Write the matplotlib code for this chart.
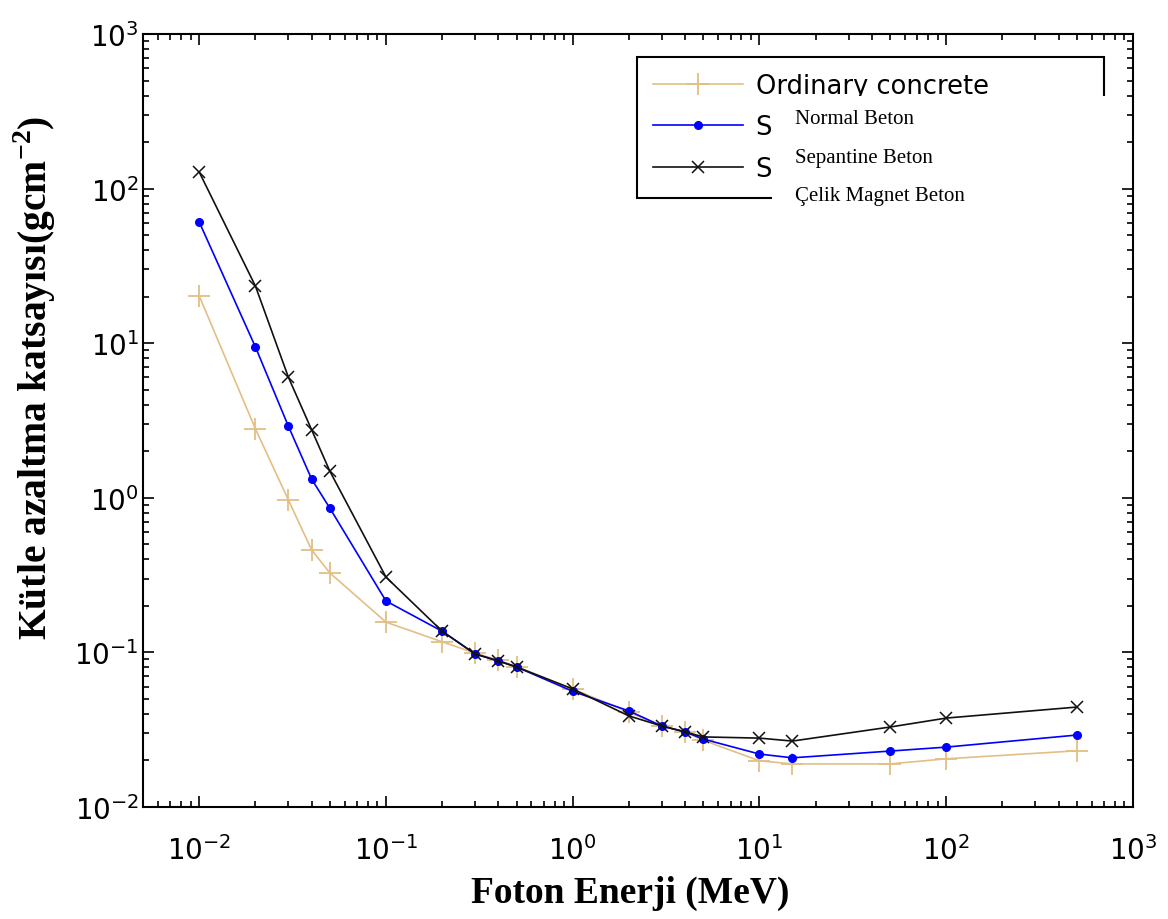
import matplotlib
matplotlib.use("Agg")
import matplotlib.pyplot as plt
from matplotlib.patches import Rectangle
from matplotlib.ticker import LogLocator, NullFormatter

# photon energies (MeV)
energy = [0.01, 0.02, 0.03, 0.04, 0.05, 0.1, 0.2, 0.3, 0.4, 0.5,
          1, 2, 3, 4, 5, 10, 15, 50, 100, 500]

# mass attenuation coefficients
ordinary = [20.2, 2.79, 0.97, 0.46, 0.327, 0.157, 0.117, 0.099, 0.089, 0.081,
            0.058, 0.041, 0.0334, 0.0306, 0.027, 0.0199, 0.019, 0.019, 0.0205, 0.0231]
serpentine = [60.8, 9.45, 2.91, 1.32, 0.859, 0.215, 0.137, 0.0977, 0.088, 0.0805,
              0.056, 0.0418, 0.0334, 0.0306, 0.0275, 0.022, 0.0208, 0.023, 0.0244, 0.0292]
steel_magnetite = [128, 23.4, 6.04, 2.75, 1.49, 0.307, 0.137, 0.0977, 0.088, 0.0805,
                   0.058, 0.0388, 0.0334, 0.0306, 0.0284, 0.0279, 0.0267, 0.0329, 0.0376, 0.0443]

# the original legend is partly hidden, only these parts are visible
legend_en = ["Ordinary concrete", "S", "S"]
legend_tr = ["Normal Beton", "Sepantine Beton", "Çelik Magnet Beton"]

plt.rcParams['mathtext.fontset'] = 'custom'
plt.rcParams['mathtext.rm'] = 'Liberation Sans'
plt.rcParams['mathtext.it'] = 'Liberation Sans'
plt.rcParams['mathtext.bf'] = 'Liberation Serif:bold'
plt.rcParams['axes.unicode_minus'] = False

W, H = 1168, 920
fig = plt.figure(figsize=(W / 100, H / 100), dpi=100)
ax = fig.add_axes([143 / W, 1 - 808 / H, (1133 - 143) / W, (808 - 35) / H])

ax.loglog(energy, ordinary, color='#e2bf84', lw=1.2, marker='+', ms=16, mew=1.3,
          label=legend_en[0])
ax.loglog(energy, serpentine, color='#0000ff', lw=1.2, marker='o', ms=5.5,
          label=legend_en[1])
ax.loglog(energy, steel_magnetite, color='#111111', lw=1.2, marker='x', ms=8, mew=1.1,
          label=legend_en[2])

ax.set_xlim(5e-3, 1e3)
ax.set_ylim(1e-2, 1e3)

for axis in (ax.xaxis, ax.yaxis):
    axis.set_minor_locator(LogLocator(base=10, subs=range(2, 10), numticks=20))
    axis.set_minor_formatter(NullFormatter())
ax.tick_params(which='both', direction='in', top=True, right=True, width=1.2)
ax.tick_params(which='major', length=8, labelsize=20)
ax.tick_params(which='minor', length=4)
ax.tick_params(axis='x', pad=20)
ax.tick_params(axis='y', pad=3)
for s in ax.spines.values():
    s.set_linewidth(1.5)

fig.text(35 / W, 1 - 378 / H, 'Kütle azaltma katsayısı(gcm$^{\\mathbf{-2}}$)',
         rotation=90, ha='center', va='center', family='Liberation Serif',
         weight='bold', fontsize=28.5)
fig.text(630 / W, 1 - 893 / H, 'Foton Enerji (MeV)', ha='center', va='center',
         family='Liberation Serif', weight='bold', fontsize=27)

leg = ax.legend(loc='upper left',
                bbox_to_anchor=(637 / W, 1 - 192 / H, (1104 - 637) / W, (192 - 58) / H),
                bbox_transform=fig.transFigure, borderaxespad=0, mode='expand',
                fancybox=False, framealpha=1, edgecolor='black',
                prop={'family': 'DejaVu Sans', 'size': 18.5},
                handlelength=3.5, handletextpad=0.5, labelspacing=0.6,
                borderpad=0.62)
leg.get_frame().set_linewidth(1.5)

# white patch over part of the legend with the Turkish labels
fig.add_artist(Rectangle((772 / W, 1 - 217 / H), 348 / W, 120 / H,
                         transform=fig.transFigure, facecolor='white',
                         edgecolor='none', zorder=10))
for i, txt in enumerate(legend_tr):
    fig.text(795 / W, 1 - (120 + 38 * i) / H, txt, ha='left', va='center',
             family='Liberation Serif', fontsize=15, zorder=11)

fig.savefig('out.png', dpi=100)
